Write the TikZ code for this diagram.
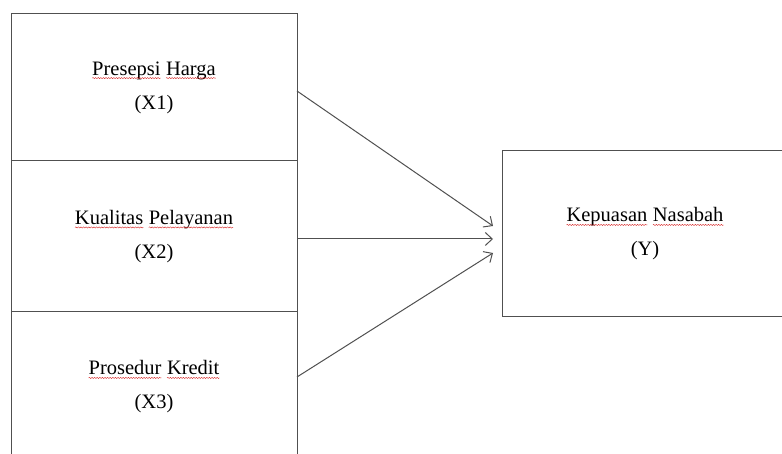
\documentclass[tikz,border=0pt]{standalone}
\usepackage{fontspec}
\setmainfont{Liberation Serif}
\usetikzlibrary{arrows.meta,positioning,decorations.pathmorphing}

\definecolor{boxline}{RGB}{80,80,80}
\definecolor{spellred}{RGB}{215,40,40}
\newcommand{\wavy}[1]{\tikz[baseline=(w.base)]{%
  \node[inner sep=0pt,outer sep=0pt,draw=none,minimum width=0pt,minimum height=0pt] (w) {#1};
  \draw[spellred, line width=0.4pt, decorate, decoration={snake,amplitude=0.6pt,segment length=2.6pt}]
    ([yshift=-3pt]w.base west) -- ([yshift=-3pt]w.base east);}}

\begin{document}
\begin{tikzpicture}[x=1pt,y=1pt,
    var/.style={draw=boxline, line width=1pt, minimum width=286pt, inner sep=0pt, outer sep=0pt,
      align=center, font=\fontsize{20.5}{34}\selectfont},
    link/.style={draw=boxline, line width=1pt, -{Straight Barb[length=7pt,width=13pt]}}]
    \useasboundingbox (0,0) rectangle (782,454);
    \clip (0,0) rectangle (782,454);
    \node[var, minimum height=147pt] (x1) at (154,366.5) {\wavy{Presepsi} \wavy{Harga}\\(X1)};
    \node[var, minimum height=151pt, below=0pt of x1] (x2) {\wavy{Kualitas} \wavy{Pelayanan}\\(X2)};
    \node[var, minimum height=150pt, below=0pt of x2] (x3) {\wavy{Prosedur} \wavy{Kredit}\\(X3)};
    \node[var, minimum height=166pt] (y) at (645,220) {\wavy{Kepuasan} \wavy{Nasabah}\\(Y)};
    \draw[link] ([yshift=-3.5pt]x1.east) -- ([xshift=-9pt,yshift=8pt]y.west);
    \draw[link] ([yshift=-2.5pt]x2.east) -- ([xshift=-9pt,yshift=-5pt]y.west);
    \draw[link] ([yshift=10pt]x3.east) -- ([xshift=-9pt,yshift=-19pt]y.west);
  \end{tikzpicture}
\end{document}
